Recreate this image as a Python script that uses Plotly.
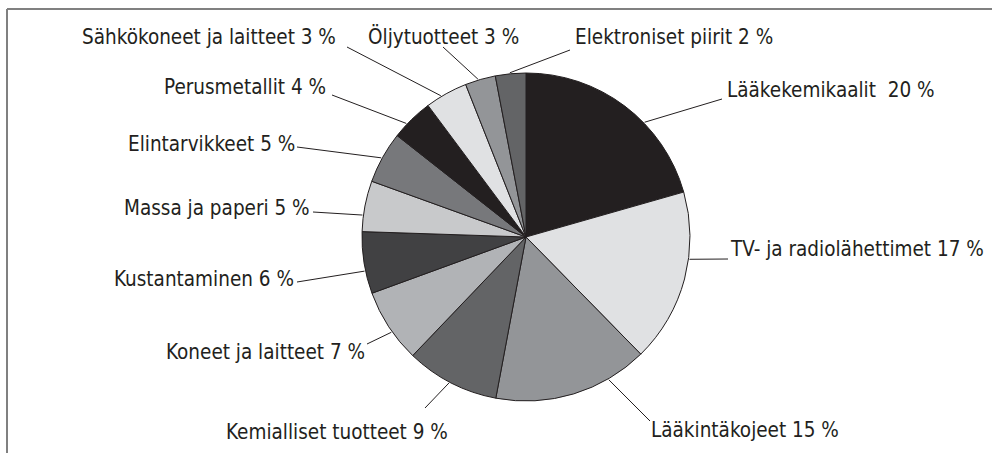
import math
import plotly.graph_objects as go

# Data, clockwise from 12 o'clock
SECTORS = [
    "Lääkekemikaalit\u00a0", "TV- ja radiolähettimet", "Lääkintäkojeet",
    "Kemialliset tuotteet", "Koneet ja laitteet", "Kustantaminen",
    "Massa ja paperi", "Elintarvikkeet", "Perusmetallit",
    "Sähkökoneet ja laitteet", "Öljytuotteet", "Elektroniset piirit",
]
LABEL_PCT = [20, 17, 15, 9, 7, 6, 5, 5, 4, 3, 3, 2]
# slice sizes as drawn in the picture (%)
SHARES = [20.6, 17.1, 15.3, 9.2, 7.3, 6.1, 5.0, 5.1, 4.2, 4.2, 3.0, 3.0]

COLORS = [
    "#231f20", "#e0e1e3", "#939598", "#636466", "#b1b3b6", "#414143",
    "#c8c9cb", "#77787b", "#231f20", "#e0e1e3", "#939598", "#636466",
]

W, H = 992, 453
CX, CY, R = 526, 237, 164
FONT = "DejaVu Sans Condensed, Liberation Sans Narrow, sans-serif"

# label placement: text x, text y, anchor, leader start x, y, where on slice the leader ends
LABEL_POS = [
    (725, 90, "left", 722, 99, 0.62),
    (728, 249, "left", 728, 259, 0.385),
    (649, 430, "left", 650, 421, 0.26),
    (450, 432, "right", 425, 408, 0.52),
    (367, 352, "right", 367, 344, 0.42),
    (296, 279, "right", 297, 282, 0.37),
    (312, 208, "right", 313, 212, 0.32),
    (297, 144, "right", 297, 147, 0.48),
    (328, 87, "right", 332, 95, 0.35),
    (338, 37, "right", 347, 47, 0.37),
    (366, 37, "left", 443, 47, 0.43),
    (573, 37, "left", 570, 50, 0.48),
]


def px(x, y):
    return x / W, 1 - y / H


fig = go.Figure(go.Pie(
    labels=SECTORS,
    values=SHARES,
    sort=False,
    direction="clockwise",
    rotation=0,
    textinfo="none",
    marker=dict(colors=COLORS, line=dict(color="#231f20", width=1)),
    domain=dict(x=[(CX - R) / W, (CX + R) / W], y=[1 - (CY + R) / H, 1 - (CY - R) / H]),
    showlegend=False,
    hoverinfo="label+text",
    hovertext=[f"{p} %" for p in LABEL_PCT],
))

total = sum(SHARES)
start = 0
annotations = []
shapes = []
for name, pct, share, pos in zip(SECTORS, LABEL_PCT, SHARES, LABEL_POS):
    tx, ty, anchor, lx, ly, frac = pos
    ang = math.radians(360 * (start + frac * share) / total)
    ex = CX + (R + 1) * math.sin(ang)
    ey = CY - (R + 1) * math.cos(ang)
    start += share

    x0, y0 = px(lx, ly)
    x1, y1 = px(ex, ey)
    shapes.append(dict(type="line", xref="paper", yref="paper", x0=x0, y0=y0, x1=x1, y1=y1,
                       line=dict(color="#231f20", width=1)))
    ax, ay = px(tx, ty)
    annotations.append(dict(
        text=f"{name} {pct} %", x=ax, y=ay, xref="paper", yref="paper",
        xanchor=anchor, yanchor="middle", showarrow=False,
        font=dict(family=FONT, size=20.5, color="#231f20"),
    ))

# frame: top and left edges only
fx0, fy0 = px(7, 9)
fx1, _ = px(W, 9)
_, fy1 = px(7, H)
shapes.append(dict(type="line", xref="paper", yref="paper", x0=fx0, y0=fy0, x1=fx1, y1=fy0,
                   line=dict(color="#808080", width=2)))
shapes.append(dict(type="line", xref="paper", yref="paper", x0=fx0, y0=fy0, x1=fx0, y1=fy1,
                   line=dict(color="#808080", width=2)))

fig.update_layout(
    width=W, height=H,
    margin=dict(l=0, r=0, t=0, b=0),
    paper_bgcolor="white",
    plot_bgcolor="white",
    annotations=annotations,
    shapes=shapes,
)

# drop the browser's default body margin so the figure sits at the page corner
fig.write_html("out.html", config={"displayModeBar": False},
               post_script="document.body.style.margin='0';")
